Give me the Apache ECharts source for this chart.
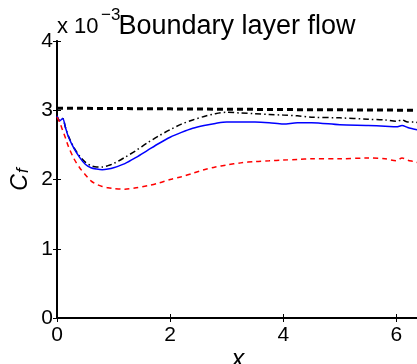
<!DOCTYPE html>
<html>
<head>
<meta charset="utf-8">
<script src="https://cdn.jsdelivr.net/npm/echarts@6/dist/echarts.min.js"></script>
<style>
    html, body { margin: 0; padding: 0; background: #fff; }
    #mainChart { width: 417px; height: 364px; }
</style>
</head>
<body>
<div id="mainChart"></div>
<script>
// Cf values in units of 1e-3
var xs = [0, 0.05, 0.1, 0.15, 0.2, 0.3, 0.4, 0.5, 0.6, 0.7, 0.8, 0.9, 1.0, 1.2, 1.4, 1.6, 1.8, 2.0, 2.2, 2.4, 2.6, 2.8, 3.0, 3.25, 3.5, 3.75, 4.0, 4.25, 4.5, 5.0, 5.5, 5.8, 6.0, 6.1, 6.2, 6.3, 6.4];
var blueCf = [2.92, 2.85, 2.88, 2.75, 2.62, 2.45, 2.32, 2.22, 2.17, 2.15, 2.14, 2.15, 2.17, 2.23, 2.32, 2.42, 2.52, 2.61, 2.68, 2.74, 2.78, 2.81, 2.83, 2.83, 2.83, 2.82, 2.80, 2.82, 2.82, 2.79, 2.78, 2.77, 2.76, 2.78, 2.75, 2.73, 2.71];
var dashDotCf = [2.92, 2.85, 2.88, 2.75, 2.63, 2.46, 2.34, 2.25, 2.20, 2.18, 2.18, 2.20, 2.23, 2.32, 2.42, 2.53, 2.63, 2.72, 2.80, 2.86, 2.91, 2.95, 2.97, 2.96, 2.95, 2.94, 2.93, 2.92, 2.90, 2.89, 2.87, 2.86, 2.84, 2.86, 2.83, 2.83, 2.82];
var redCf = [2.90, 2.82, 2.71, 2.60, 2.48, 2.30, 2.17, 2.07, 1.98, 1.93, 1.90, 1.88, 1.87, 1.86, 1.88, 1.91, 1.95, 2.00, 2.04, 2.09, 2.14, 2.18, 2.21, 2.24, 2.26, 2.27, 2.28, 2.29, 2.30, 2.30, 2.31, 2.30, 2.27, 2.31, 2.28, 2.26, 2.24];
var refX = [0, 2, 4, 6.4];
var refCf = [3.03, 3.02, 3.01, 3.00];

function pairs(a, b) {
    var out = [];
    for (var i = 0; i < a.length; i++) out.push([a[i], b[i]]);
    return out;
}

var font = "Liberation Sans";
var n = echarts.init(document.getElementById("mainChart"));
n.setOption({
    backgroundColor: "#fff",
    animation: false,
    textStyle: { fontFamily: font },
    title: {
        text: "Boundary layer flow",
        left: 232, top: 8, textAlign: "center",
        textStyle: { color: "#000", fontSize: 27, fontWeight: "normal", fontFamily: font }
    },
    // exponent label "x 10^-3"
    graphic: [{
        type: "text", x: 57, y: 16,
        style: { text: "x 10", fill: "#000", fontSize: 22, fontFamily: font }
    }, {
        type: "text", x: 101, y: 7,
        style: { text: "\u22123", fill: "#000", fontSize: 17, fontFamily: font }
    }],
    grid: { left: 57, top: 41, right: -2, bottom: 46, containLabel: false, outerBoundsMode: "none" },
    xAxis: [{
        type: "value", min: 0, max: 6.4, interval: 2,
        name: "x", nameLocation: "middle", nameGap: 30, nameMoveOverlap: false,
        nameTextStyle: { fontSize: 25, fontStyle: "italic", color: "#000", fontFamily: font },
        axisLine: { show: true, lineStyle: { color: "#000", width: 2 } },
        axisTick: { inside: true, length: 4, lineStyle: { color: "#000" } },
        axisLabel: { color: "#000", fontSize: 21, margin: 7, showMaxLabel: false, fontFamily: font },
        splitLine: { show: false }
    }, {
        type: "value", min: 0, max: 6.4, interval: 2, position: "top",
        axisLine: { show: true, lineStyle: { color: "#000", width: 1.5 } },
        axisTick: { inside: true, length: 4, lineStyle: { color: "#000" } },
        axisLabel: { show: false },
        splitLine: { show: false }
    }],
    yAxis: [{
        type: "value", min: 0, max: 4, interval: 1,
        name: "{c|C}{s|f}", nameLocation: "middle", nameGap: 25, nameRotate: 90, nameMoveOverlap: false,
        nameTextStyle: {
            rich: {
                c: { fontSize: 23, fontStyle: "italic", color: "#000", fontFamily: font, lineHeight: 23, verticalAlign: "top" },
                s: { fontSize: 17, fontStyle: "italic", color: "#000", fontFamily: font, lineHeight: 18, verticalAlign: "bottom", padding: [12, 0, 0, 1] }
            }
        },
        axisLine: { show: true, lineStyle: { color: "#000", width: 2 } },
        axisTick: { inside: true, length: 4, lineStyle: { color: "#000" } },
        axisLabel: { color: "#000", fontSize: 21, margin: 4, fontFamily: font },
        splitLine: { show: false }
    }, {
        type: "value", min: 0, max: 4, interval: 1, position: "right",
        axisLine: { show: true, lineStyle: { color: "#000", width: 1.5 } },
        axisTick: { inside: true, length: 4, lineStyle: { color: "#000" } },
        axisLabel: { show: false },
        splitLine: { show: false }
    }],
    series: [{
        name: "ref", type: "line", symbol: "none", data: pairs(refX, refCf),
        lineStyle: { color: "#000", width: 3, type: [6, 4] }
    }, {
        name: "dashdot", type: "line", symbol: "none", smooth: 0.3, data: pairs(xs, dashDotCf),
        lineStyle: { color: "#000", width: 1.5, type: [6, 3, 1.5, 3] }
    }, {
        name: "blue", type: "line", symbol: "none", smooth: 0.3, data: pairs(xs, blueCf),
        lineStyle: { color: "#0000ff", width: 1.5 }
    }, {
        name: "red", type: "line", symbol: "none", smooth: 0.3, data: pairs(xs, redCf),
        lineStyle: { color: "#ff0000", width: 1.5, type: [5, 4] }
    }]
});
</script>
</body>
</html>
